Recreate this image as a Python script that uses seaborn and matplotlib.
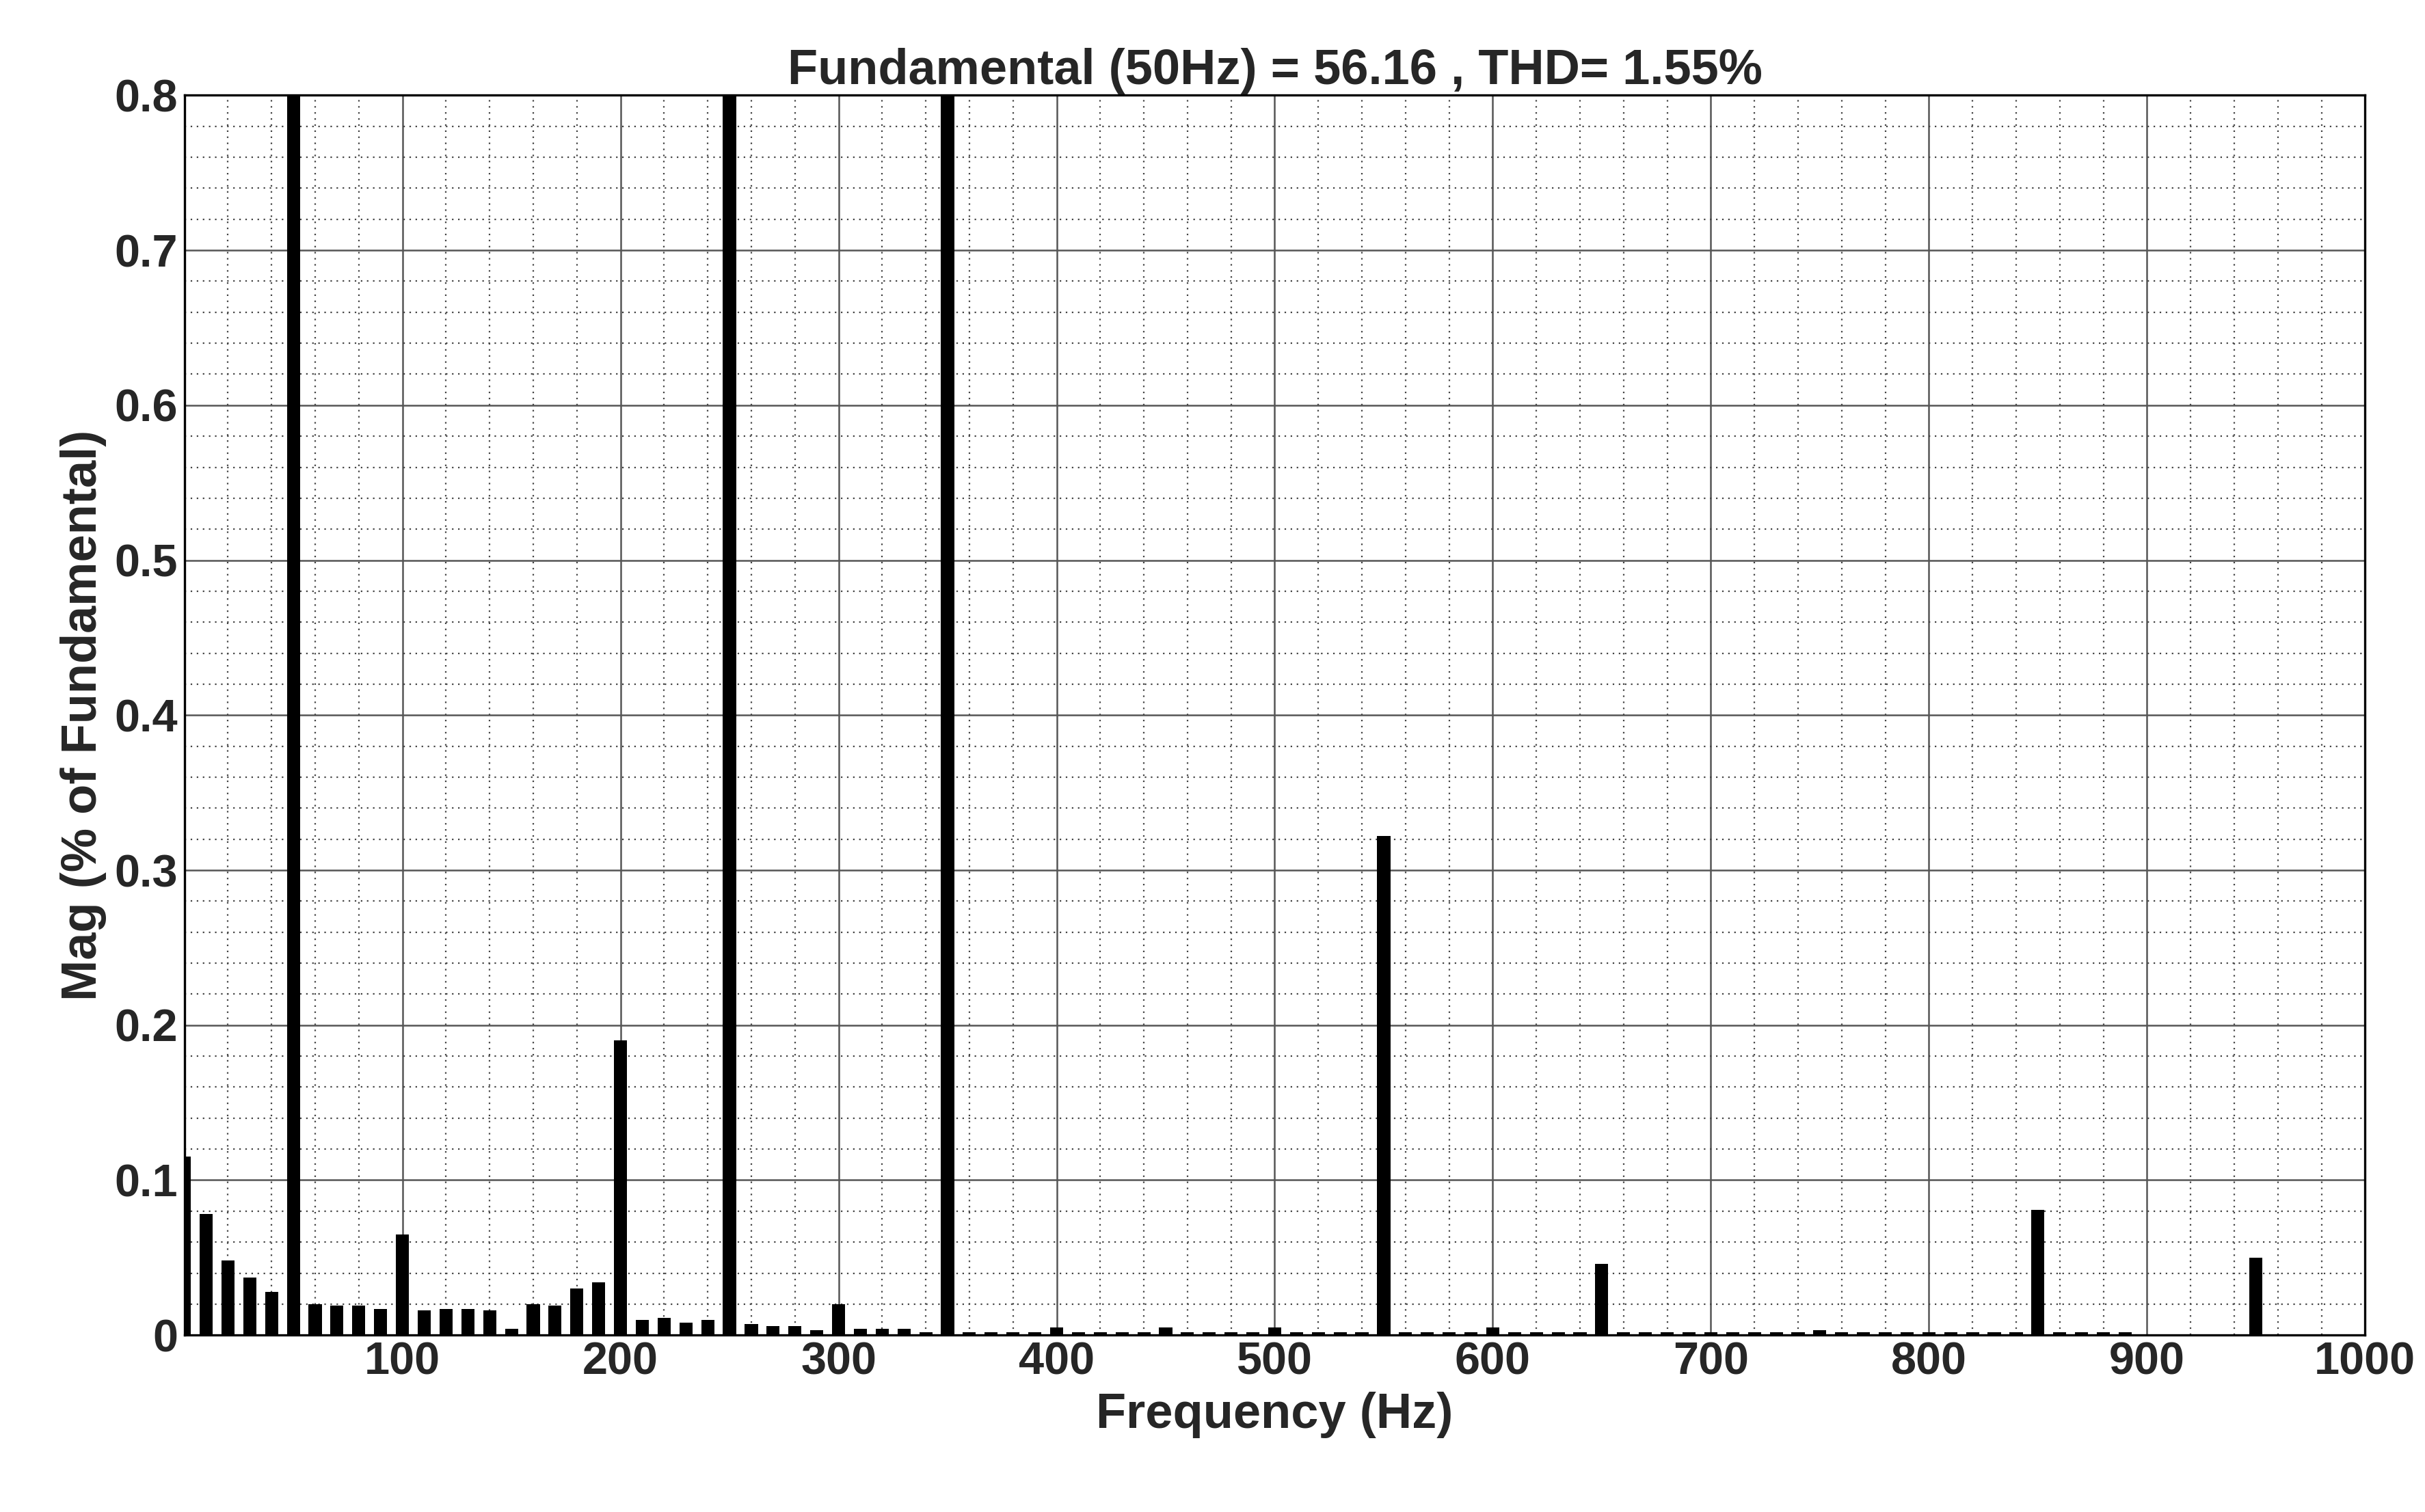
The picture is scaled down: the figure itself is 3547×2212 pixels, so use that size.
import numpy as np
import pandas as pd
import seaborn as sns
import matplotlib.pyplot as plt
from matplotlib.ticker import MultipleLocator

# harmonic spectrum, magnitude in % of fundamental (50 Hz bar = 100)
freq = list(range(0, 1001, 10))
low = [0.115, 0.078, 0.048, 0.037, 0.028, 100.0, 0.020, 0.019, 0.019, 0.017,
       0.065, 0.016, 0.017, 0.017, 0.016, 0.004, 0.020, 0.019, 0.030, 0.034,
       0.190, 0.010, 0.011, 0.008, 0.010, 20.0, 0.007, 0.006, 0.006, 0.003,
       0.020, 0.004, 0.004, 0.004, 0.002, 14.0]
peaks = {400: 0.005, 450: 0.005, 500: 0.005, 550: 0.322, 600: 0.005,
         650: 0.046, 750: 0.003, 850: 0.081, 950: 0.050}
high = []
for f in freq[len(low):]:
    if f in peaks:
        high.append(peaks[f])
    elif f < 900:
        high.append(0.002)
    else:
        high.append(0.0)
mag = low + high

df = pd.DataFrame({'Frequency': freq, 'Mag': mag})

sns.set_style('white')
plt.rcParams['font.family'] = ['Liberation Sans', 'DejaVu Sans']

fig, ax = plt.subplots(figsize=(17.74, 11.06), dpi=200)
# width is a fraction of the 10 Hz spacing when native_scale=True
sns.barplot(data=df, x='Frequency', y='Mag', native_scale=True, color='black',
            width=0.6, edgecolor='black', linewidth=0, ax=ax)

ax.set_xlim(0, 1000)
ax.set_ylim(0, 0.8)
ax.set_xticks(range(100, 1001, 100))
ax.set_yticks(np.arange(0, 0.81, 0.1))
ax.set_yticklabels(['0'] + ['%.1f' % v for v in np.arange(0.1, 0.81, 0.1)])
ax.xaxis.set_minor_locator(MultipleLocator(20))
ax.yaxis.set_minor_locator(MultipleLocator(0.02))
ax.grid(which='major', color='#555555', linewidth=0.9)
ax.grid(which='minor', color='#444444', linestyle=(0, (1, 3)), linewidth=0.8)
ax.set_axisbelow(True)
for s in ax.spines.values():
    s.set_color('black')
    s.set_linewidth(1.2)
ax.tick_params(labelsize=24, direction='in', length=0)
for lbl in ax.get_xticklabels() + ax.get_yticklabels():
    lbl.set_fontweight('bold')

ax.set_xlabel('Frequency (Hz)', fontsize=26, fontweight='bold')
ax.set_ylabel('Mag (% of Fundamental)', fontsize=26, fontweight='bold')
ax.set_title('Fundamental (50Hz) = 56.16 , THD= 1.55%', fontsize=26,
             fontweight='bold')

plt.subplots_adjust(left=0.076, right=0.975, bottom=0.117, top=0.937)
plt.savefig('out.png', dpi=200)
